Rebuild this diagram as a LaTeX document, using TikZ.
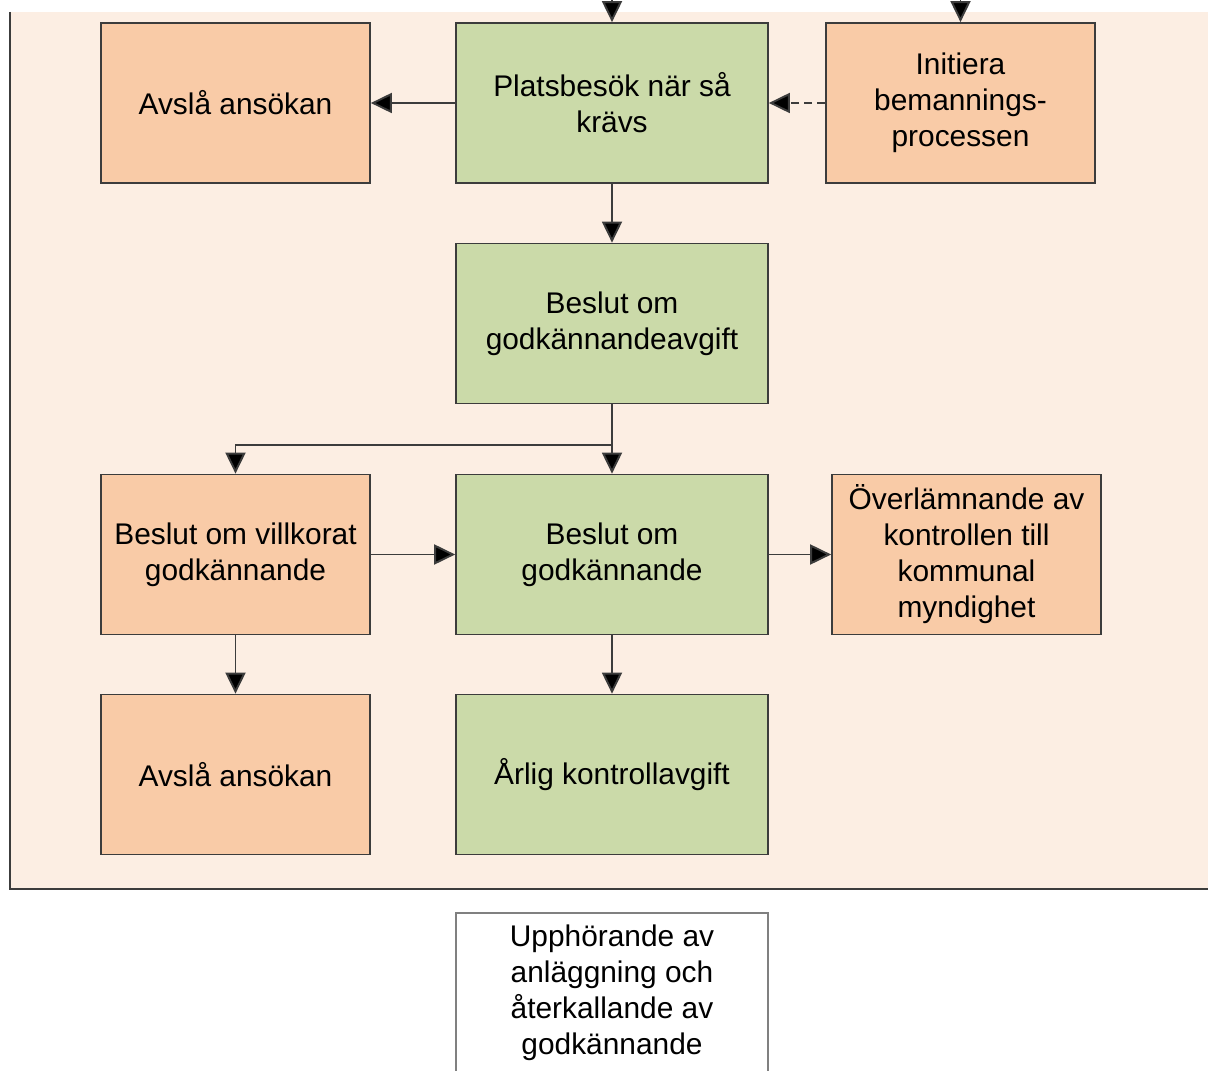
\documentclass[tikz,border=0pt]{standalone}
\usepackage{fontspec}
\setmainfont{Liberation Sans}
\usetikzlibrary{arrows.meta}
\definecolor{bgpink}{HTML}{FCEEE3}
\definecolor{boxorange}{HTML}{F9CBA7}
\definecolor{boxgreen}{HTML}{CBDAA9}
\definecolor{edgegray}{HTML}{3C3C3C}

\begin{document}
\begin{tikzpicture}[x=0.02cm, y=-0.02cm,
        box/.style={draw=edgegray, line width=1pt, align=center, inner sep=0pt,
            minimum height=3.2cm, font=\fontsize{17pt}{20.5pt}\selectfont},
        orangebox/.style={box, fill=boxorange, minimum width=5.38cm},
        greenbox/.style={box, fill=boxgreen, minimum width=6.24cm},
        whitebox/.style={box, draw=gray, fill=white, minimum width=6.24cm},
        arr/.style={line width=1.1pt, draw=edgegray, -{Triangle[length=0.42cm, width=0.4cm, fill=black]}}]
        \clip (0,0) rectangle (1208,1071);

        % Hintergrund
        \fill[bgpink] (10,12) rectangle (1208,889);
        \draw[edgegray, line width=1pt] (10,12) -- (10,889) -- (1208,889);

        % Kaesten
        \node[orangebox] (avslaA) at (235.5,103) {Avslå ansökan};
        \node[greenbox] (plats) at (612,103) {Platsbesök när så\\krävs};
        \node[orangebox] (init) at (960.5,103) {Initiera\\bemannings-\\processen};
        \node[greenbox] (avgift) at (612,323.5) {Beslut om\\godkännandeavgift};
        \node[orangebox] (villk) at (235.5,554.5) {Beslut om villkorat\\godkännande};
        \node[greenbox] (godk) at (612,554.5) {Beslut om\\godkännande};
        \node[orangebox] (overl) at (966.5,554.5) {Överlämnande av\\kontrollen till\\kommunal\\myndighet};
        \node[orangebox] (avslaB) at (235.5,774.5) {Avslå ansökan};
        \node[greenbox] (arlig) at (612,774.5) {Årlig kontrollavgift};
        \node[whitebox] (upph) at (612,993) {Upphörande av\\anläggning och\\återkallande av\\godkännande};

        % Pfeile von oben
        \coordinate (inPlats) at (612,-5);
        \coordinate (inInit) at (960.5,-5);
        \draw[arr] (inPlats) -- (plats.north);
        \draw[arr] (inInit) -- (init.north);

        % Verbindungen
        \draw[arr] (plats.west) -- (avslaA.east);
        \draw[arr, dash pattern=on 0.16cm off 0.1cm] (init.west) -- (plats.east);
        \draw[arr] (plats.south) -- (avgift.north);
        \coordinate (split) at (612,445);
        \draw[arr] (avgift.south) -- (godk.north);
        \draw[arr] (split) -| (villk.north);
        \draw[arr] (villk.east) -- (godk.west);
        \draw[arr] (godk.east) -- (overl.west);
        \draw[arr] (villk.south) -- (avslaB.north);
        \draw[arr] (godk.south) -- (arlig.north);
    \end{tikzpicture}
\end{document}
